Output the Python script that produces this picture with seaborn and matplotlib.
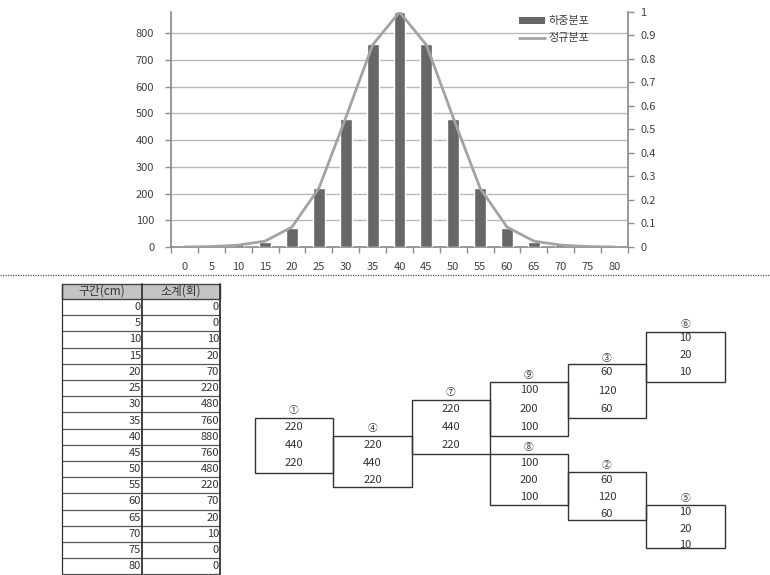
import numpy as np
import pandas as pd
import matplotlib
matplotlib.use("Agg")
import matplotlib.pyplot as plt
import seaborn as sns
from matplotlib.patches import Rectangle, Patch
from matplotlib.lines import Line2D

# ---------------- data ----------------
categories = [0, 5, 10, 15, 20, 25, 30, 35, 40, 45, 50, 55, 60, 65, 70, 75, 80]
load_counts = [0, 0, 10, 20, 70, 220, 480, 760, 880, 760, 480, 220, 70, 20, 10, 0, 0]
normal_vals = [0, 0.002, 0.008, 0.025, 0.085, 0.25, 0.55, 0.86, 1.0, 0.86, 0.55, 0.25, 0.085, 0.025, 0.008, 0.002, 0]
left_ticks = [0, 100, 200, 300, 400, 500, 600, 700, 800]
right_ticks = [0, 0.1, 0.2, 0.3, 0.4, 0.5, 0.6, 0.7, 0.8, 0.9, 1]
series_names = ["하중분포", "정규분포"]
table_headers = ["구간(cm)", "소계(회)"]

box_labels = ["①", "④", "⑦", "⑨", "⑧", "③", "②", "⑥", "⑤"]
box_values = [
    [220, 440, 220],
    [220, 440, 220],
    [220, 440, 220],
    [100, 200, 100],
    [100, 200, 100],
    [60, 120, 60],
    [60, 120, 60],
    [10, 20, 10],
    [10, 20, 10],
]

# ---------------- layout (pixels) ----------------
# box: left, right, top, bottom, label_y, first value y, value step
box_layout = [
    (255, 333, 418, 473, 410, 427, 18),
    (333, 412, 436, 487, 428, 445, 17.5),
    (412, 490, 400, 454, 392, 409, 18),
    (490, 568, 382, 436, 375, 390, 18.5),
    (490, 568, 454, 505, 447, 463, 17),
    (568, 646, 364, 418, 358, 372, 18.5),
    (568, 646, 472, 520, 465, 480, 17),
    (646, 725, 332, 382, 324, 338, 17),
    (646, 725, 505, 548, 498, 512, 16.5),
]

W, H = 770, 575
FONT = ["Noto Sans CJK KR", "DejaVu Sans"]

sns.set_theme(style="white")
plt.rcParams["font.family"] = FONT
plt.rcParams["axes.unicode_minus"] = False

fig = plt.figure(figsize=(W / 100, H / 100), dpi=100)

# main chart axes
L, R, T, B = 171, 628, 12, 247
ax = fig.add_axes([L / W, 1 - B / H, (R - L) / W, (B - T) / H])
df = pd.DataFrame({"cat": categories, "cnt": load_counts, "norm": normal_vals})
df["pos"] = df.index

text_col = "#404040"
spine_col = "#8c8c8c"

sns.barplot(data=df, x="cat", y="cnt", ax=ax, color="#676767", saturation=1,
            width=0.44, order=categories, zorder=3)
ax.set_ylim(0, 880)
ax.set_xlim(-0.5, len(categories) - 0.5)
ax.set_yticks(left_ticks)
ax.set_yticklabels([str(v) for v in left_ticks])
ax.yaxis.grid(True, color="#b8b8b8", linewidth=1)
ax.set_axisbelow(True)
ax.set_xlabel("")
ax.set_ylabel("")
for s in ["top", "right"]:
    ax.spines[s].set_visible(False)
ax.spines["left"].set_color(spine_col)
ax.spines["bottom"].set_color(spine_col)
ax.tick_params(axis="y", direction="out", length=4, width=1, color=spine_col,
               labelsize=8, labelcolor=text_col, pad=8, left=True)
ax.tick_params(axis="x", which="major", length=0, labelsize=8,
               labelcolor=text_col, pad=11)
ax.set_xticks(np.arange(-0.5, len(categories), 1), minor=True)
ax.tick_params(axis="x", which="minor", direction="out", length=4, width=1,
               color=spine_col, bottom=True)

ax2 = ax.twinx()
sns.lineplot(data=df, x="pos", y="norm", ax=ax2, color="#a3a3a3", linewidth=2.0,
             zorder=4)
ax2.set_ylim(0, 1)
ax2.set_xlim(-0.5, len(categories) - 0.5)
ax2.set_yticks(right_ticks)
ax2.set_yticklabels([f"{v:g}" for v in right_ticks])
ax2.set_ylabel("")
ax2.set_xlabel("")
for s in ["top", "left", "bottom"]:
    ax2.spines[s].set_visible(False)
ax2.spines["right"].set_color(spine_col)
ax2.tick_params(axis="y", direction="out", length=4, width=1, color=spine_col,
                labelsize=8, labelcolor=text_col, pad=5, right=True)

handles = [Patch(facecolor="#676767", edgecolor="none"),
           Line2D([0], [0], color="#a3a3a3", linewidth=2.0)]
ax2.legend(handles, series_names, loc="upper left",
           bbox_to_anchor=(515 / W, 1 - 12 / H), bbox_transform=fig.transFigure,
           frameon=False, fontsize=8, handlelength=2.3, handleheight=0.5,
           handletextpad=0.3, labelspacing=0.6, borderaxespad=0,
           labelcolor=text_col)

# overlay axes for separator, table, and diagram (pixel coordinates)
ov = fig.add_axes([0, 0, 1, 1], facecolor="none")
ov.set_xlim(0, W)
ov.set_ylim(H, 0)
ov.axis("off")

ov.plot([0, W], [275, 275], color="#555555", linewidth=0.9, linestyle=(0, (1, 1)))

# table
tx0, tx1, tx2 = 62, 142, 220
hy0, hy1 = 284, 299
row_h = 16.2
ov.add_patch(Rectangle((tx0, hy0), tx2 - tx0, hy1 - hy0, facecolor="#c4c4c4",
                       edgecolor="#444444", linewidth=1))
ov.text((tx0 + tx1) / 2, (hy0 + hy1) / 2, table_headers[0], ha="center", va="center",
        fontsize=8.5, color="#333333")
ov.text((tx1 + tx2) / 2, (hy0 + hy1) / 2, table_headers[1], ha="center", va="center",
        fontsize=8.5, color="#333333")
n = len(categories)
bottom = hy1 + row_h * n
for i, (c, v) in enumerate(zip(categories, load_counts)):
    y0 = hy1 + i * row_h
    y1 = y0 + row_h
    ov.plot([tx0, tx2], [y1, y1], color="#555555", linewidth=0.9)
    ov.text(tx1 - 1, (y0 + y1) / 2, str(c), ha="right", va="center", fontsize=8,
            color="#333333")
    ov.text(tx2 - 1, (y0 + y1) / 2, str(v), ha="right", va="center", fontsize=8,
            color="#333333")
for x, lw in [(tx0, 0.9), (tx1, 1.3), (tx2, 1.3)]:
    ov.plot([x, x], [hy0, bottom], color="#333333", linewidth=lw)

# diagram
for lab, vals, (l, r, t, b, ly, vy, step) in zip(box_labels, box_values, box_layout):
    ov.add_patch(Rectangle((l, t), r - l, b - t, facecolor="none",
                           edgecolor="#333333", linewidth=1))
    ov.text((l + r) / 2, ly, lab, ha="center", va="center", fontsize=7,
            color="#333333")
    for k, v in enumerate(vals):
        ov.text((l + r) / 2, vy + k * step, str(v), ha="center", va="center",
                fontsize=8, color="#333333")

fig.savefig("out.png", dpi=100)
